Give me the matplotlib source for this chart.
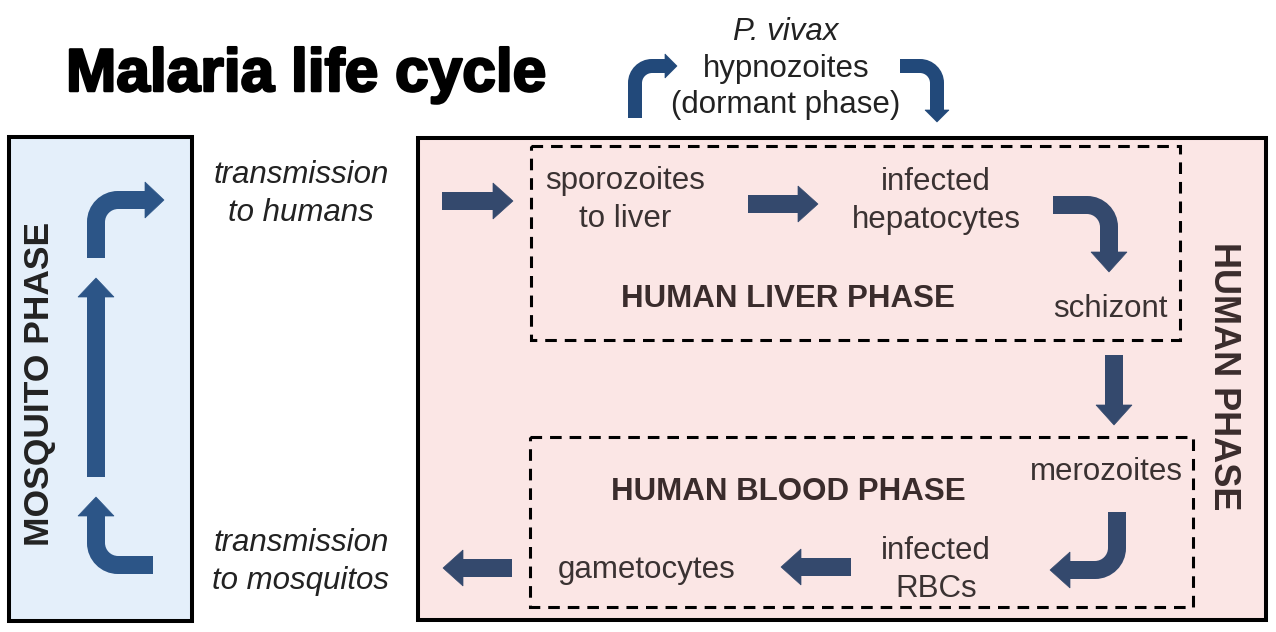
import matplotlib
matplotlib.use("Agg")
import matplotlib.pyplot as plt
import matplotlib.patheffects as pe
from matplotlib.patches import Rectangle, Polygon, PathPatch
from matplotlib.path import Path
import numpy as np

plt.rcParams['font.family'] = ['Liberation Sans', 'DejaVu Sans']

# Textos del diagrama
titulo = "Malaria life cycle"
fase_mosquito = "MOSQUITO PHASE"
fase_humana = "HUMAN PHASE"
fase_higado = "HUMAN LIVER PHASE"
fase_sangre = "HUMAN BLOOD PHASE"

# (texto, x, y base, alineacion, cursiva)
etiquetas = [
    ("P. vivax", 786, 40, "center", True),
    ("hypnozoites", 786, 77, "center", False),
    ("(dormant phase)", 786, 113, "center", False),
    ("transmission", 301, 183, "center", True),
    ("to humans", 301, 221, "center", True),
    ("sporozoites", 625, 189, "center", False),
    ("to liver", 625, 227, "center", False),
    ("infected", 936, 190, "center", False),
    ("hepatocytes", 936, 228, "center", False),
    ("schizont", 1168, 317, "right", False),
    ("merozoites", 1183, 480, "right", False),
    ("infected", 936, 559, "center", False),
    ("RBCs", 936, 597, "center", False),
    ("gametocytes", 647, 578, "center", False),
    ("transmission", 301, 551, "center", True),
    ("to mosquitos", 301, 589, "center", True),
]

# Flechas: puntos del recorrido (el ultimo es la punta)
flechas_mosquito = [
    [(96, 258), (96, 200), (164, 200)],
    [(96, 477), (96, 278)],
    [(153, 565), (96, 565), (96, 497)],
]
flechas_humano = [
    [(442, 201), (513, 201)],
    [(748, 204), (818, 204)],
    [(1053, 205), (1109, 205), (1109, 272)],
    [(1114, 355), (1114, 425)],
    [(1117, 512), (1117, 570), (1050, 570)],
    [(851, 567), (781, 567)],
    [(512, 568), (443, 568)],
]
flechas_latentes = [
    [(635, 118), (635, 66), (677, 66)],
    [(900, 66), (937, 66), (937, 122)],
]

color_texto = "#3a3232"
azul_mosquito = "#2c5587"
azul_humano = "#34496d"
azul_latente = "#22497a"


def flecha(ax, pts, ancho, ancho_punta, largo_punta, color, radio=16):
    pts = [np.array(p, dtype=float) for p in pts]
    punta = pts[-1]
    d = punta - pts[-2]
    d = d / np.linalg.norm(d)
    base = punta - d * largo_punta
    verts = [pts[0]]
    codes = [Path.MOVETO]
    for i in range(1, len(pts) - 1):
        c = pts[i]
        d1 = (c - pts[i - 1]) / np.linalg.norm(c - pts[i - 1])
        d2 = (pts[i + 1] - c) / np.linalg.norm(pts[i + 1] - c)
        # esquina redondeada con un arco cubico
        k = 0.55 * radio
        verts += [c - d1 * radio, c - d1 * (radio - k), c + d2 * (radio - k), c + d2 * radio]
        codes += [Path.LINETO, Path.CURVE4, Path.CURVE4, Path.CURVE4]
    verts.append(base + d * 1.5)
    codes.append(Path.LINETO)
    ax.add_patch(PathPatch(Path(verts, codes), fill=False, edgecolor=color,
                           lw=ancho * 0.72, capstyle="butt", joinstyle="miter"))
    n = np.array([-d[1], d[0]])
    ax.add_patch(Polygon([base + n * ancho_punta / 2, punta, base - n * ancho_punta / 2],
                         closed=True, facecolor=color, edgecolor=color, lw=0.5))


fig = plt.figure(figsize=(12.76, 6.32), dpi=100)
ax = fig.add_axes([0, 0, 1, 1])
ax.set_xlim(0, 1276)
ax.set_ylim(632, 0)
ax.axis("off")

# Cajas
ax.add_patch(Rectangle((9, 137), 183, 484, facecolor="#e4effa", edgecolor="black", lw=2.9))
ax.add_patch(Rectangle((418, 138), 848, 482, facecolor="#fbe6e5", edgecolor="black", lw=2.9))
ax.add_patch(Rectangle((531, 146), 649, 194, fill=False, edgecolor="black", lw=2.2,
                       ls=(0, (3.8, 2.6))))
ax.add_patch(Rectangle((530, 437), 663, 170, fill=False, edgecolor="black", lw=2.2,
                       ls=(0, (3.8, 2.6))))

# Titulo
ax.text(66, 91, titulo, fontsize=43.5, fontweight="bold", color="black",
        ha="left", va="baseline",
        path_effects=[pe.withStroke(linewidth=1.8, foreground="black")])

ax.text(40, 384, fase_mosquito, fontsize=25.5, fontweight="bold", color="#222222",
        rotation=90, ha="center", va="center")
ax.text(1224, 376, fase_humana, fontsize=26, fontweight="bold", color="#3a2c2c",
        rotation=-90, ha="center", va="center")
ax.text(788, 307, fase_higado, fontsize=22.5, fontweight="bold", color="#3a2c2c",
        ha="center", va="baseline")
ax.text(788, 500, fase_sangre, fontsize=22.5, fontweight="bold", color="#3a2c2c",
        ha="center", va="baseline")

for texto, x, y, ha, cursiva in etiquetas:
    col = "#222222" if texto in ("P. vivax", "hypnozoites", "(dormant phase)") or cursiva else color_texto
    ax.text(x, y, texto, fontsize=22.5, color=col, ha=ha, va="baseline",
            style="italic" if cursiva else "normal")

for f in flechas_mosquito:
    flecha(ax, f, 18, 36, 19, azul_mosquito, radio=22)
for f in flechas_humano:
    flecha(ax, f, 18, 36, 20, azul_humano, radio=22)
for f in flechas_latentes:
    flecha(ax, f, 14, 24, 12, azul_latente, radio=17)

fig.savefig("out.png", dpi=100)
